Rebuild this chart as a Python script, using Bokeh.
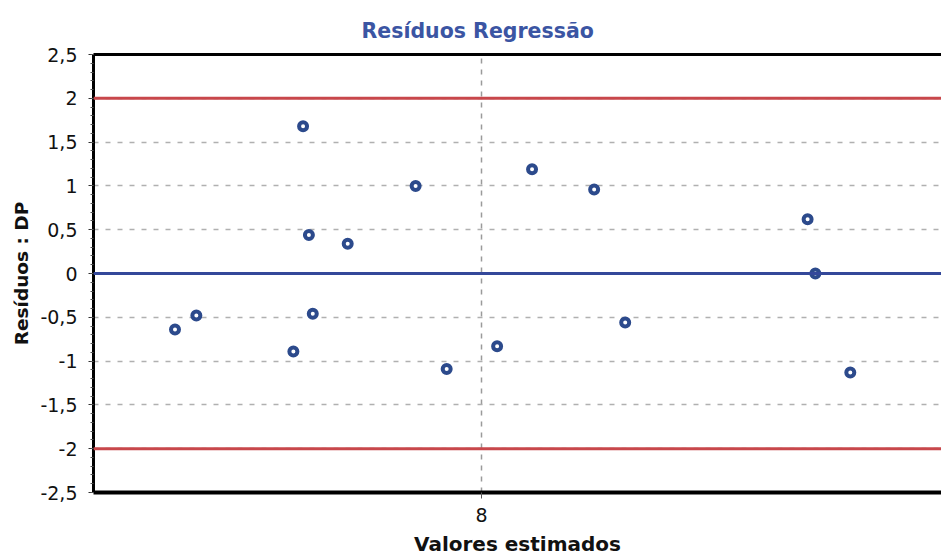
from bokeh.plotting import figure
from bokeh.models import (Range1d, FixedTicker, Span, LinearAxis, CustomJSTickFormatter)
from bokeh.embed import file_html
from bokeh.resources import INLINE

# ---- data ----
x_est = [6.42, 6.53, 7.08, 7.11, 7.13, 7.03, 7.31, 7.66, 7.82, 8.08, 8.26, 8.58, 8.74, 9.68, 9.72, 9.90]
resid = [-0.64, -0.48, 1.68, 0.44, -0.46, -0.89, 0.34, 1.00, -1.09, -0.83, 1.19, 0.96, -0.56, 0.62, 0.00, -1.13]

y_ticks = [-2.5, -2.0, -1.5, -1.0, -0.5, 0.0, 0.5, 1.0, 1.5, 2.0, 2.5]
y_tick_labels = ["-2,5", "-2", "-1,5", "-1", "-0,5", "0", "0,5", "1", "1,5", "2", "2,5"]
x_ticks = [8.0]
x_tick_labels = ["8"]
limit_lines = [-2.0, 2.0]
zero_line = 0.0

title_text = "Resíduos Regressão"
x_label = "Valores estimados"
y_label = "Resíduos : DP"

FONT = "DejaVu Sans"

p = figure(width=941, height=558, output_backend="svg", toolbar_location=None,
           x_range=Range1d(6.0, 10.37), y_range=Range1d(-2.5, 2.5),
           min_border_left=93, min_border_right=0, min_border_top=54, min_border_bottom=62,
           title=title_text)
p.outline_line_color = None
p.background_fill_color = "white"

# title
p.title.align = "left"
p.title.offset = 268
p.title.standoff = 24
p.title.text_font = FONT
p.title.text_font_size = "20.5px"
p.title.text_font_style = "bold"
p.title.text_color = "#3b55a3"

# y axis
yax = p.yaxis[0]
minor = [round(-2.5 + 0.1 * i, 2) for i in range(51)]
yax.ticker = FixedTicker(ticks=y_ticks, minor_ticks=minor)
yax.formatter = CustomJSTickFormatter(code="return tick.toString().replace('.', ',')")
yax.major_label_overrides = {t: l for t, l in zip(y_ticks, y_tick_labels)}
yax.major_label_text_font = FONT
yax.major_label_text_font_size = "19px"
yax.major_label_text_color = "#111111"
yax.major_label_standoff = 11
yax.axis_line_width = 3
yax.axis_line_color = "black"
yax.major_tick_out = 5
yax.major_tick_in = 0
yax.minor_tick_out = 3
yax.minor_tick_in = 0
yax.major_tick_line_color = "#333333"
yax.minor_tick_line_color = "#555555"
yax.axis_label = y_label
yax.axis_label_text_font = FONT
yax.axis_label_text_font_size = "18.5px"
yax.axis_label_text_font_style = "bold"
yax.axis_label_text_color = "#111111"
yax.axis_label_standoff = 5

# x axis
xax = p.xaxis[0]
xax.ticker = FixedTicker(ticks=x_ticks)
xax.major_label_overrides = {t: l for t, l in zip(x_ticks, x_tick_labels)}
xax.major_label_text_font = FONT
xax.major_label_text_font_size = "19px"
xax.major_label_text_color = "#111111"
xax.major_label_standoff = 9
xax.axis_line_width = 4
xax.axis_line_color = "black"
xax.major_tick_out = 6
xax.major_tick_in = 0
xax.major_tick_line_color = "#555555"
xax.minor_tick_line_color = None
xax.axis_label = x_label
xax.axis_label_text_font = FONT
xax.axis_label_text_font_size = "20px"
xax.axis_label_text_font_style = "bold"
xax.axis_label_text_color = "#111111"
xax.axis_label_standoff = 7

# top border line
top = LinearAxis(ticker=FixedTicker(ticks=[]), axis_line_width=3, axis_line_color="black",
                 major_tick_line_color=None, minor_tick_line_color=None,
                 major_label_text_font_size="0px")
p.add_layout(top, "above")

# grids
p.xgrid.ticker = FixedTicker(ticks=x_ticks)
p.xgrid.grid_line_color = "#9a9a9a"
p.xgrid.grid_line_dash = "5 6"
p.xgrid.grid_line_width = 1.5
p.ygrid.ticker = FixedTicker(ticks=y_ticks)
p.ygrid.grid_line_color = "#b0b0b0"
p.ygrid.grid_line_dash = "5 7"
p.ygrid.grid_line_width = 1.5

# reference lines
for loc in limit_lines:
    p.add_layout(Span(location=loc, dimension="width", line_color="#c8474b", line_width=3))
p.add_layout(Span(location=zero_line, dimension="width", line_color="#34489a", line_width=3))

# points
p.scatter(x_est, resid, size=8, fill_color="white", line_color="#2c4a8c", line_width=4)

open("out.html", "w").write(file_html(p, INLINE))
